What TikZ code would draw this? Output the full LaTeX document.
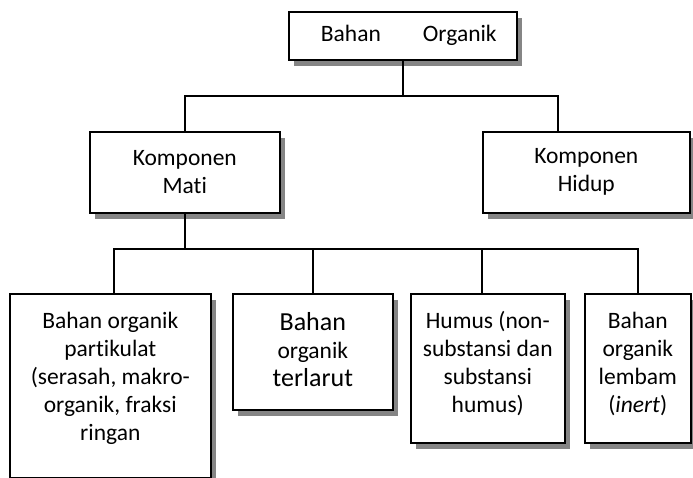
\documentclass[tikz,border=0pt]{standalone}
\usepackage{fontspec}
\setmainfont{Carlito}[Ligatures={NoCommon}]
\usetikzlibrary{shadows}
\tikzset{
 box/.style={draw=black, line width=1.6pt, fill=white, inner sep=0pt, anchor=north west,
   drop shadow={shadow xshift=5pt, shadow yshift=-6pt, fill=black!48, opacity=1}},
 conn/.style={line width=1.5pt}
}
\newcommand{\btext}[4]{\parbox[c][#2pt][t]{#1pt}{\centering\vspace*{#3pt}\strut #4\par}}
\begin{document}
\begin{tikzpicture}[x=1pt,y=-1pt, font=\fontsize{23.5}{28}\selectfont]
\useasboundingbox (0,0) rectangle (693,478);
\node[box, minimum width=228pt, minimum height=48pt] (top) at (288,11) {\hspace*{12pt}Bahan\hspace{42pt}Organik};
\node[box, minimum width=190pt, minimum height=81pt, align=center] (mati) at (89,131) {Komponen\\Mati};
\node[box, minimum width=207pt, minimum height=81pt, align=center] (hidup) at (482,131) {Komponen\\Hidup};
\node[box] (b1) at (9,293) {\btext{201}{184}{15}{Bahan organik\\ partikulat\\ (serasah, makro-\\ organik, fraksi\\ ringan}};
\node[box] (b2) at (232,293) {\btext{160}{116}{17}{{\fontsize{26}{28}\selectfont Bahan}\\ organik\\ {\fontsize{26}{28}\selectfont terlarut}}};
\node[box] (b3) at (410,293) {\btext{154}{149}{15}{Humus (non-\\ substansi dan\\ substansi\\ humus)}};
\node[box] (b4) at (584,293) {\btext{106}{149}{15}{Bahan\\ organik\\ lembam\\ (\textit{inert})}};
\coordinate (bus1) at (0,96);
\coordinate (bus2) at (0,249);
\coordinate (hidupin) at (558,131);
\coordinate (b1in) at (114,293);
\coordinate (b3in) at (482,293);
\draw[conn] (top.south) -- (top.south |- bus1);
\draw[conn] (mati.north) |- (bus1 -| hidupin) -- (hidupin);
\draw[conn] (mati.south) -- (mati.south |- bus2);
\draw[conn] (b1in) |- (bus2 -| b4.north) -- (b4.north);
\draw[conn] (b2.north) -- (b2.north |- bus2);
\draw[conn] (b3in) -- (b3in |- bus2);
\end{tikzpicture}
\end{document}
